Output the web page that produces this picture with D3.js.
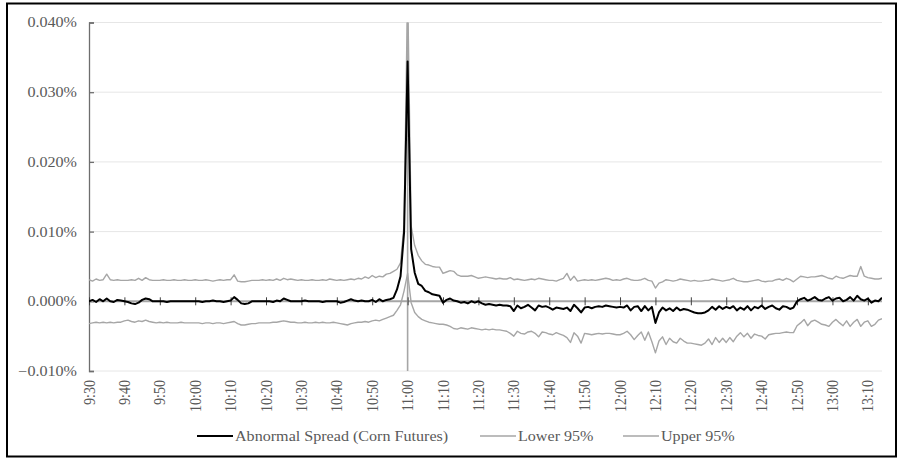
<!DOCTYPE html>
<html>
<head>
<meta charset="utf-8">
<script src="https://cdn.jsdelivr.net/npm/d3@7"></script>
<style>
  body { margin: 0; background: #fff; }
</style>
</head>
<body>
<svg width="907" height="459"></svg>
<script>
var width = 907,
    height = 459;

// one category per minute, 9:30 .. 13:14
var startMinute = 9 * 60 + 30;
var categories = d3.range(225).map(function(i) {
    var t = startMinute + i;
    return Math.floor(t / 60) + ":" + String(t % 60).padStart(2, "0");
});
var tickLabels = categories.filter(function(d, i) { return i % 10 === 0; });
var yTicks = [-0.01, 0, 0.01, 0.02, 0.03, 0.04];
var eventTime = "11:00";

// values in percent
var abnormal = [
    0.0000,0.0002,-0.0001,0.0003,0.0000,0.0004,0.0000,-0.0001,0.0002,0.0001,
    0.0000,-0.0001,-0.0003,-0.0004,-0.0002,0.0002,0.0004,0.0003,0.0000,0.0000,
    0.0000,0.0000,-0.0001,0.0000,0.0000,0.0000,0.0000,0.0000,0.0000,0.0000,
    0.0000,0.0000,-0.0001,0.0000,0.0000,0.0001,0.0000,0.0000,-0.0001,0.0000,
    0.0001,0.0006,0.0002,-0.0003,-0.0004,-0.0003,0.0000,0.0000,0.0000,0.0000,
    0.0000,0.0000,-0.0001,0.0001,0.0000,0.0004,0.0002,0.0000,0.0000,0.0000,
    0.0000,0.0001,0.0000,0.0000,0.0000,0.0000,-0.0001,0.0000,0.0000,0.0000,
    0.0000,-0.0002,-0.0001,0.0001,0.0003,0.0001,0.0000,0.0001,0.0000,0.0000,
    0.0002,-0.0001,0.0003,0.0000,0.0002,0.0003,0.0005,0.0017,0.0036,0.0099,
    0.0344,
    0.0075,0.0041,0.0025,0.0022,0.0015,0.0013,0.0010,0.0009,0.0008,
    -0.0002,0.0002,0.0004,0.0001,0.0000,-0.0002,-0.0001,-0.0003,0.0000,-0.0002,
    0.0000,-0.0003,-0.0005,-0.0004,-0.0005,-0.0006,-0.0005,-0.0006,-0.0006,-0.0007,
    -0.0014,-0.0006,-0.0010,-0.0008,-0.0005,-0.0009,-0.0013,-0.0006,-0.0008,-0.0007,
    -0.0009,-0.0012,-0.0009,-0.0010,-0.0011,-0.0009,-0.0014,-0.0005,-0.0010,-0.0016,
    -0.0009,-0.0008,-0.0010,-0.0008,-0.0007,-0.0008,-0.0006,-0.0007,-0.0008,-0.0009,
    -0.0008,-0.0009,-0.0006,-0.0013,-0.0008,-0.0007,-0.0014,-0.0007,-0.0013,-0.0008,
    -0.0031,-0.0016,-0.0009,-0.0013,-0.0010,-0.0014,-0.0009,-0.0013,-0.0011,-0.0012,
    -0.0014,-0.0016,-0.0017,-0.0017,-0.0016,-0.0013,-0.0008,-0.0012,-0.0007,-0.0011,
    -0.0008,-0.0010,-0.0007,-0.0013,-0.0009,-0.0012,-0.0007,-0.0013,-0.0008,-0.0010,
    -0.0006,-0.0011,-0.0008,-0.0006,-0.0010,-0.0012,-0.0007,-0.0008,-0.0011,-0.0009,
    0.0000,0.0003,0.0005,0.0001,0.0003,0.0006,0.0002,0.0001,0.0004,0.0006,
    0.0001,0.0004,0.0005,0.0000,0.0002,0.0006,0.0001,0.0008,0.0003,0.0001,
    0.0004,-0.0002,0.0001,0.0000,0.0005
];

var lower95 = [
    -0.0032,-0.0031,-0.0030,-0.0031,-0.0030,-0.0031,-0.0030,-0.0031,-0.0030,-0.0030,
    -0.0028,-0.0027,-0.0029,-0.0030,-0.0028,-0.0029,-0.0027,-0.0029,-0.0030,-0.0031,
    -0.0030,-0.0031,-0.0030,-0.0031,-0.0031,-0.0031,-0.0030,-0.0031,-0.0031,-0.0031,
    -0.0031,-0.0031,-0.0032,-0.0031,-0.0031,-0.0032,-0.0031,-0.0031,-0.0032,-0.0031,
    -0.0030,-0.0029,-0.0032,-0.0034,-0.0034,-0.0033,-0.0032,-0.0032,-0.0031,-0.0031,
    -0.0031,-0.0031,-0.0030,-0.0030,-0.0029,-0.0028,-0.0029,-0.0030,-0.0030,-0.0031,
    -0.0031,-0.0030,-0.0031,-0.0031,-0.0030,-0.0031,-0.0030,-0.0031,-0.0031,-0.0030,
    -0.0031,-0.0032,-0.0033,-0.0034,-0.0032,-0.0031,-0.0030,-0.0030,-0.0029,-0.0030,
    -0.0028,-0.0027,-0.0028,-0.0026,-0.0024,-0.0022,-0.0020,-0.0013,-0.0005,0.0015,
    0.0040,
    -0.0002,-0.0016,-0.0022,-0.0026,-0.0028,-0.0030,-0.0031,-0.0032,-0.0033,
    -0.0033,-0.0034,-0.0036,-0.0039,-0.0040,-0.0038,-0.0039,-0.0040,-0.0038,-0.0039,
    -0.0040,-0.0041,-0.0040,-0.0041,-0.0040,-0.0041,-0.0041,-0.0042,-0.0043,-0.0046,
    -0.0050,-0.0043,-0.0046,-0.0047,-0.0044,-0.0043,-0.0046,-0.0051,-0.0044,-0.0045,
    -0.0047,-0.0048,-0.0045,-0.0047,-0.0049,-0.0052,-0.0059,-0.0045,-0.0050,-0.0060,
    -0.0046,-0.0047,-0.0048,-0.0047,-0.0046,-0.0047,-0.0046,-0.0046,-0.0047,-0.0048,
    -0.0048,-0.0046,-0.0043,-0.0048,-0.0055,-0.0049,-0.0044,-0.0056,-0.0044,-0.0058,
    -0.0074,-0.0057,-0.0051,-0.0062,-0.0053,-0.0058,-0.0060,-0.0053,-0.0057,-0.0060,
    -0.0060,-0.0061,-0.0062,-0.0063,-0.0060,-0.0054,-0.0062,-0.0052,-0.0059,-0.0053,
    -0.0059,-0.0052,-0.0058,-0.0050,-0.0045,-0.0051,-0.0046,-0.0053,-0.0047,-0.0049,
    -0.0050,-0.0054,-0.0048,-0.0047,-0.0046,-0.0046,-0.0045,-0.0044,-0.0045,-0.0045,
    -0.0035,-0.0031,-0.0026,-0.0035,-0.0029,-0.0027,-0.0030,-0.0033,-0.0034,-0.0036,
    -0.0030,-0.0026,-0.0031,-0.0035,-0.0028,-0.0036,-0.0030,-0.0026,-0.0036,-0.0030,
    -0.0028,-0.0036,-0.0033,-0.0027,-0.0025
];

var upper95 = [
    0.0031,0.0029,0.0032,0.0030,0.0031,0.0039,0.0031,0.0030,0.0031,0.0030,
    0.0030,0.0030,0.0031,0.0030,0.0033,0.0030,0.0034,0.0031,0.0030,0.0030,
    0.0030,0.0031,0.0030,0.0030,0.0031,0.0030,0.0030,0.0031,0.0030,0.0030,
    0.0031,0.0030,0.0030,0.0031,0.0030,0.0029,0.0030,0.0031,0.0030,0.0031,
    0.0031,0.0038,0.0029,0.0028,0.0028,0.0029,0.0030,0.0030,0.0030,0.0031,
    0.0030,0.0031,0.0030,0.0032,0.0030,0.0033,0.0031,0.0032,0.0031,0.0030,
    0.0031,0.0030,0.0030,0.0031,0.0030,0.0030,0.0031,0.0030,0.0032,0.0031,
    0.0030,0.0031,0.0030,0.0031,0.0032,0.0031,0.0033,0.0032,0.0035,0.0033,
    0.0037,0.0034,0.0036,0.0035,0.0039,0.0040,0.0043,0.0046,0.0055,0.0110,
    0.0450,
    0.0108,0.0080,0.0066,0.0058,0.0053,0.0052,0.0050,0.0049,0.0049,
    0.0040,0.0042,0.0044,0.0043,0.0038,0.0036,0.0036,0.0036,0.0037,0.0035,
    0.0033,0.0034,0.0035,0.0034,0.0033,0.0032,0.0033,0.0032,0.0032,0.0034,
    0.0031,0.0032,0.0031,0.0030,0.0031,0.0032,0.0031,0.0033,0.0032,0.0031,
    0.0030,0.0030,0.0029,0.0031,0.0033,0.0040,0.0030,0.0036,0.0029,0.0030,
    0.0031,0.0030,0.0031,0.0030,0.0031,0.0032,0.0033,0.0032,0.0030,0.0031,
    0.0030,0.0032,0.0033,0.0031,0.0030,0.0030,0.0031,0.0033,0.0030,0.0029,
    0.0019,0.0026,0.0028,0.0031,0.0030,0.0029,0.0030,0.0032,0.0031,0.0030,
    0.0029,0.0030,0.0029,0.0029,0.0030,0.0030,0.0032,0.0031,0.0030,0.0029,
    0.0030,0.0031,0.0033,0.0030,0.0029,0.0028,0.0028,0.0029,0.0030,0.0031,
    0.0029,0.0028,0.0029,0.0029,0.0031,0.0032,0.0030,0.0033,0.0031,0.0028,
    0.0032,0.0036,0.0035,0.0034,0.0035,0.0035,0.0036,0.0037,0.0035,0.0033,
    0.0032,0.0036,0.0034,0.0033,0.0035,0.0037,0.0036,0.0036,0.0050,0.0036,
    0.0034,0.0033,0.0032,0.0032,0.0033
];

var svg = d3.select("svg").attr("width", width).attr("height", height);
var plotLeft = 89, plotRight = 882, plotTop = 22.5, plotBottom = 371;
var stretch = 1.15;   // text in the picture is a little wide
var serif = "'Liberation Serif', 'DejaVu Serif', serif";

var x = d3.scalePoint().domain(categories).range([plotLeft, plotRight]);
var y = d3.scaleLinear().domain([-0.01, 0.04]).range([plotBottom, plotTop]);

// outer frame
svg.append("rect")
    .attr("x", 7).attr("y", 3.5)
    .attr("width", 889).attr("height", 453)
    .attr("fill", "none")
    .attr("stroke", "#000")
    .attr("stroke-width", 2);

// gridlines
svg.append("g").selectAll("line").data(yTicks)
    .enter().append("line")
        .attr("x1", plotLeft).attr("x2", plotRight)
        .attr("y1", function(d) { return y(d); })
        .attr("y2", function(d) { return y(d); })
        .attr("stroke", "#e6e6e6")
        .attr("stroke-width", 1);

// y axis, ticks pointing inward
var yAxis = svg.append("g")
    .attr("transform", "translate(" + plotLeft + ",0)")
    .call(d3.axisLeft(y).tickValues(yTicks).tickSize(-5).tickFormat(""));
yAxis.selectAll("path, line").attr("stroke", "#6e6e6e").attr("stroke-width", 1.3);

svg.append("g").selectAll("text").data(yTicks)
    .enter().append("text")
        .attr("transform", function(d) { return "translate(77," + y(d) + ") scale(" + stretch + ",1)"; })
        .attr("dy", "0.35em")
        .attr("text-anchor", "end")
        .attr("font-family", serif)
        .attr("font-size", 14)
        .attr("fill", "#595959")
        .text(function(d) { return d3.format(".3f")(d) + "%"; });

// horizontal axis crossing at zero
svg.append("line")
    .attr("x1", plotLeft).attr("x2", plotRight)
    .attr("y1", y(0)).attr("y2", y(0))
    .attr("stroke", "#a6a6a6")
    .attr("stroke-width", 2);

// event marker at 11:00
svg.append("line")
    .attr("x1", x(eventTime)).attr("x2", x(eventTime))
    .attr("y1", plotTop).attr("y2", plotBottom)
    .attr("stroke", "#a6a6a6")
    .attr("stroke-width", 1.6);

var xAxis = svg.append("g")
    .attr("transform", "translate(0," + (y(0) - 4) + ")")
    .call(d3.axisBottom(x).tickValues(tickLabels).tickSizeInner(8).tickSizeOuter(0).tickFormat(""));
xAxis.select(".domain").remove();
xAxis.selectAll("line").attr("stroke", "#404040").attr("stroke-width", 1);

svg.append("g").selectAll("text").data(tickLabels)
    .enter().append("text")
        .attr("transform", function(d) { return "translate(" + x(d) + ",380) rotate(-90) scale(1," + stretch + ")"; })
        .attr("dy", "0.35em")
        .attr("text-anchor", "end")
        .attr("font-family", serif)
        .attr("font-size", 14)
        .attr("fill", "#595959")
        .text(function(d) { return d; });

// series
svg.append("clipPath").attr("id", "plot")
    .append("rect")
        .attr("x", plotLeft).attr("y", plotTop)
        .attr("width", plotRight - plotLeft).attr("height", plotBottom - plotTop);

var line = d3.line()
    .x(function(d, i) { return x(categories[i]); })
    .y(function(d) { return y(d); });

var series = [
    { name: "Lower 95%", values: lower95, color: "#a6a6a6", width: 1.4 },
    { name: "Upper 95%", values: upper95, color: "#a6a6a6", width: 1.4 },
    { name: "Abnormal Spread (Corn Futures)", values: abnormal, color: "#000", width: 2 }
];

svg.append("g").attr("clip-path", "url(#plot)")
    .selectAll("path").data(series)
    .enter().append("path")
        .attr("d", function(d) { return line(d.values); })
        .attr("fill", "none")
        .attr("stroke", function(d) { return d.color; })
        .attr("stroke-width", function(d) { return d.width; })
        .attr("stroke-linejoin", "round");

// legend
var legendItems = [series[2], series[0], series[1]];
var legendX = [197, 480, 623];
var legend = svg.append("g").selectAll("g").data(legendItems)
    .enter().append("g")
        .attr("transform", function(d, i) { return "translate(" + legendX[i] + ",436)"; });
legend.append("line")
    .attr("x1", 0).attr("x2", 36)
    .attr("stroke", function(d) { return d.color; })
    .attr("stroke-width", function(d) { return d.width; });
legend.append("text")
    .attr("transform", "translate(38,0) scale(" + stretch + ",1)")
    .attr("dy", "0.35em")
    .attr("font-family", serif)
    .attr("font-size", 14)
    .attr("fill", "#595959")
    .text(function(d) { return d.name; });
</script>
</body>
</html>
